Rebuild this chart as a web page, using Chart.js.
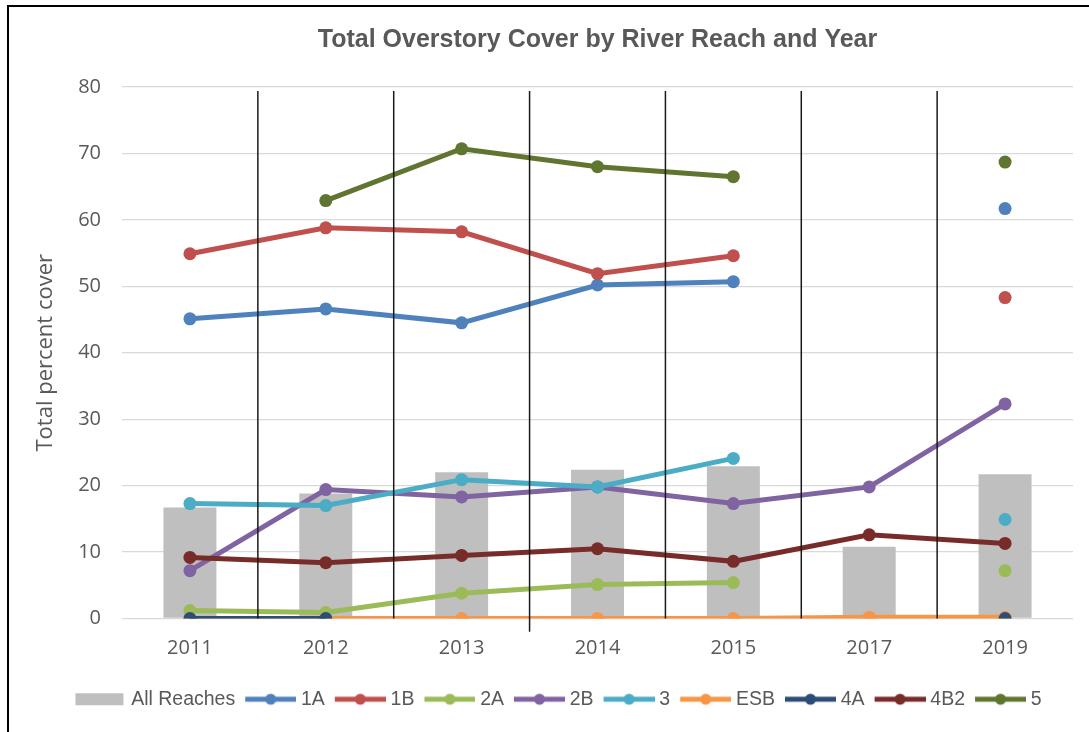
<!DOCTYPE html>
<html>
<head>
<meta charset="utf-8">
<script src="https://cdn.jsdelivr.net/npm/chart.js@4.4.1/dist/chart.umd.min.js"></script>
<style>
  html, body { margin: 0; padding: 0; background: #fff; }
  #wrap { position: relative; width: 1089px; height: 732px; overflow: hidden; }
  #frame { position: absolute; left: 7px; top: 5px; right: -10px; bottom: -10px;
           border-left: 2px solid #000; border-top: 2px solid #000; pointer-events: none; }
  canvas { position: absolute; left: 0; top: 0; }
</style>
</head>
<body>
<div id="wrap">
  <canvas id="chart" width="1089" height="732"></canvas>
  <div id="frame"></div>
</div>
<script>
// categories
const years = ['2011', '2012', '2013', '2014', '2015', '2017', '2019'];

// series values (percent cover), null = not sampled
const allReaches = [16.7, 18.8, 22.0, 22.4, 22.9, 10.8, 21.7];
const reach1A  = [45.1, 46.6, 44.5, 50.2, 50.7, null, 61.7];
const reach1B  = [54.9, 58.8, 58.2, 51.9, 54.6, null, 48.3];
const reach2A  = [1.2, 0.9, 3.8, 5.1, 5.4, null, 7.2];
const reach2B  = [7.2, 19.4, 18.3, 19.8, 17.3, 19.8, 32.3];
const reach3   = [17.3, 17.0, 20.9, 19.8, 24.1, null, 14.9];
const reachESB = [0, 0, 0, 0, 0, 0.2, 0.2];
const reach4A  = [0, 0, null, null, null, null, 0];
const reach4B2 = [9.2, 8.4, 9.5, 10.5, 8.6, 12.6, 11.3];
const reach5   = [null, 62.9, 70.7, 68.0, 66.5, null, 68.7];

const yTicks = [0, 10, 20, 30, 40, 50, 60, 70, 80];

const lineSeries = [
  { label: '1A',  data: reach1A,  color: '#4F81BD' },
  { label: '1B',  data: reach1B,  color: '#C0504D' },
  { label: '2A',  data: reach2A,  color: '#9BBB59' },
  { label: '2B',  data: reach2B,  color: '#8064A2' },
  { label: '3',   data: reach3,   color: '#4BACC6' },
  { label: 'ESB', data: reachESB, color: '#F79646' },
  { label: '4A',  data: reach4A,  color: '#2C4D75' },
  { label: '4B2', data: reach4B2, color: '#772C2A' },
  { label: '5',   data: reach5,   color: '#5F7530' }
];

const textGrey = '#595959';
const boxW = 46;

// legend swatches: a little line with a dot, or a grey block for the bars.
// the canvas is a bit wider than the legend box so the swatch sits close to its text
function makeSwatch(color, isBar) {
  const c = document.createElement('canvas');
  c.width = boxW + 10;
  c.height = 14;
  const g = c.getContext('2d');
  if (isBar) {
    g.fillStyle = color;
    g.fillRect(5, 1, 48, 12);
  } else {
    g.strokeStyle = color;
    g.lineWidth = 5;
    g.beginPath();
    g.moveTo(5, 7);
    g.lineTo(56, 7);
    g.stroke();
    g.fillStyle = color;
    g.beginPath();
    g.arc(30.5, 7, 5.5, 0, Math.PI * 2);
    g.fill();
  }
  return c;
}

const datasets = [{
  type: 'bar',
  label: 'All Reaches',
  data: allReaches,
  backgroundColor: '#BFBFBF',
  barPercentage: 0.39,
  categoryPercentage: 1,
  order: 100
}].concat(lineSeries.map((s, i) => ({
  type: 'line',
  label: s.label,
  data: s.data,
  borderColor: s.color,
  backgroundColor: s.color,
  borderWidth: 5,
  pointRadius: 6.5,
  pointBorderWidth: 0,
  pointBackgroundColor: s.color,
  tension: 0,
  spanGaps: false,
  order: 20 - i   // later series on top, like Excel
})));

const swatches = datasets.map(d => makeSwatch(d.backgroundColor, d.type === 'bar'));

// thin black divider lines between years
const sepEnds = [0, 0, -2, 0, 0, 0];
const separators = {
  id: 'separators',
  afterLayout(chart) {
    // legend sits a little right of the canvas centre in the original
    chart.legend.left += 9;
    chart.legend.right += 9;
  },
  afterDatasetsDraw(chart) {
    const { ctx, scales: { x, y } } = chart;
    ctx.save();
    ctx.strokeStyle = '#1a1a1a';
    ctx.lineWidth = 1.5;
    for (let i = 0; i < years.length - 1; i++) {
      const px = (x.getPixelForValue(i) + x.getPixelForValue(i + 1)) / 2;
      ctx.beginPath();
      ctx.moveTo(px, y.getPixelForValue(79.4));
      ctx.lineTo(px, y.getPixelForValue(sepEnds[i]));
      ctx.stroke();
    }
    ctx.restore();
  }
};

new Chart(document.getElementById('chart'), {
  data: { labels: years, datasets: datasets },
  options: {
    responsive: false,
    animation: false,
    events: [],
    layout: { padding: { left: 26, right: 16, top: 10, bottom: 13 } },
    plugins: {
      title: {
        display: true,
        text: 'Total Overstory Cover by River Reach and Year',
        color: textGrey,
        fullSize: false,
        font: { family: "'Liberation Sans', Arial, sans-serif", size: 25, weight: 'bold' },
        padding: { top: 15, bottom: 32 }
      },
      legend: {
        position: 'bottom',
        labels: {
          usePointStyle: true,
          pointStyleWidth: boxW,
          boxHeight: 12,
          padding: 10,
          color: textGrey,
          font: { family: "'Liberation Sans', Arial, sans-serif", size: 19.5 },
          generateLabels: chart => chart.data.datasets.map((d, i) => ({
            text: d.label,
            pointStyle: swatches[i],
            fillStyle: d.backgroundColor,
            strokeStyle: d.backgroundColor,
            lineWidth: 0,
            hidden: false,
            datasetIndex: i,
            fontColor: textGrey
          }))
        }
      },
      tooltip: { enabled: false }
    },
    scales: {
      x: {
        type: 'category',
        offset: true,
        grid: { display: false, drawTicks: false },
        border: { display: false },
        ticks: {
          color: textGrey,
          padding: 18,
          font: { family: "'Open Sans', sans-serif", size: 20 }
        },
        afterFit: s => { s.height = 61; }
      },
      y: {
        min: 0,
        max: 80,
        afterBuildTicks: s => { s.ticks = yTicks.map(v => ({ value: v })); },
        grid: { color: '#D9D9D9', lineWidth: 1.3, drawTicks: false },
        border: { display: false },
        ticks: {
          color: textGrey,
          padding: 21,
          font: { family: "'Open Sans', sans-serif", size: 20 }
        },
        title: {
          display: true,
          text: 'Total percent cover',
          color: textGrey,
          padding: { top: 6.5, bottom: 0 },
          font: { family: "'Open Sans', sans-serif", size: 22 }
        },
        afterFit: s => { s.width = 96; }
      }
    }
  },
  plugins: [separators]
});
</script>
</body>
</html>
